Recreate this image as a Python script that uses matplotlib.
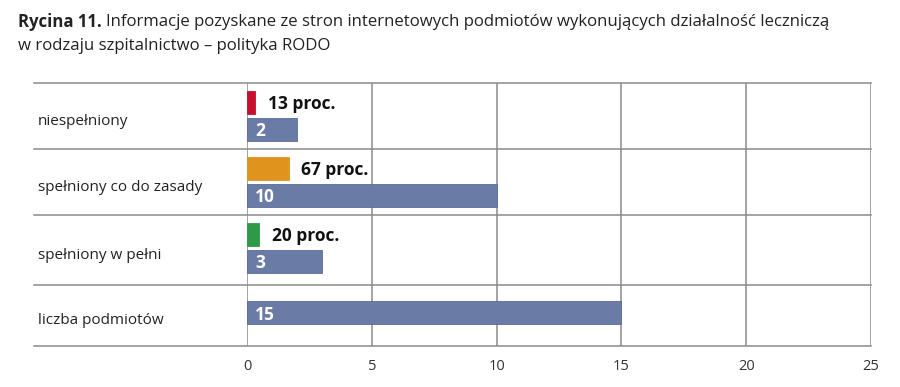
import matplotlib
matplotlib.use("Agg")
import matplotlib.pyplot as plt
from matplotlib.transforms import blended_transform_factory

# ---- data ----
categories = ["niespełniony", "spełniony co do zasady", "spełniony w pełni", "liczba podmiotów"]
counts = [2, 10, 3, 15]
percents = [13, 67, 20]
pct_labels = ["13 proc.", "67 proc.", "20 proc."]
pct_colors = ["#C8102E", "#E0941E", "#2E9A48"]
count_color = "#6A7BA6"
xticks = [0, 5, 10, 15, 20, 25]
PCT_SCALE = 0.025  # percentage bars drawn at 1/40 of axis units

# ---- layout ----
W, H = 900, 387
fig = plt.figure(figsize=(W / 100, H / 100), dpi=100)
x0, x1 = 247, 871
y_top, y_bot = 83, 346
ax = fig.add_axes([x0 / W, 1 - y_bot / H, (x1 - x0) / W, (y_bot - y_top) / H])

# row boundaries in data units (y grows downward)
row_bounds = [0, 1, 2, 3.06, 3.985]
ax.set_ylim(row_bounds[-1], 0)
ax.set_xlim(0, 25)

grid_c = "#8a8a8a"
for s in ax.spines.values():
    s.set_visible(False)

for xt in xticks:
    ax.axvline(xt, color=grid_c, lw=1.1, zorder=1)

trans = blended_transform_factory(ax.transAxes, ax.transData)
left_ext = (34 - x0) / (x1 - x0)
for yb in row_bounds:
    ax.plot([left_ext, 1], [yb, yb], transform=trans, color=grid_c, lw=1.1,
            clip_on=False, zorder=1)

bh = 0.35
pct_centers = [0.30, 1.30, 2.30]
cnt_centers = [0.70, 1.70, 2.70, 3.48]

ax.barh(pct_centers, [p * PCT_SCALE for p in percents], height=bh,
        color=pct_colors, edgecolor=pct_colors, lw=0.6, zorder=3)
ax.barh(cnt_centers, counts, height=bh, color=count_color,
        edgecolor="#5a6b96", lw=0.6, zorder=3)

lab_font = ["Open Sans", "DejaVu Sans"]
for yc, p, lab in zip(pct_centers, percents, pct_labels):
    ax.annotate(lab, (p * PCT_SCALE, yc), xytext=(9, -0.8), textcoords="offset points",
                ha="left", va="center", fontsize=12.5, fontweight="bold",
                color="#111111", family=lab_font, zorder=4)
for yc, c in zip(cnt_centers, counts):
    ax.annotate(str(c), (0, yc), xytext=(6, -1.5), textcoords="offset points",
                ha="left", va="center", fontsize=12.5, fontweight="bold",
                color="white", family=lab_font, zorder=4)

# category labels
for i, cat in enumerate(categories):
    yc = (row_bounds[i] + row_bounds[i + 1]) / 2 + 0.08
    ax.text((38 - x0) / (x1 - x0), yc, cat, transform=trans, ha="left", va="center",
            fontsize=11, color="#222222", family=lab_font)

ax.set_yticks([])
ax.set_xticks(xticks)
ax.set_xticklabels([str(t) for t in xticks], fontsize=10.5, color="#333333", family=lab_font)
ax.tick_params(axis="x", length=0, pad=9)

# title
fig.text(18 / W, 1 - 22 / H, "Rycina 11.", ha="left", va="center", fontsize=12.1,
         fontweight="bold", color="#222222", family=lab_font)
fig.text(106 / W, 1 - 22 / H,
         "Informacje pozyskane ze stron internetowych podmiotów wykonujących działalność leczniczą",
         ha="left", va="center", fontsize=12.1, color="#222222", family=lab_font)
fig.text(18 / W, 1 - 46 / H, "w rodzaju szpitalnictwo – polityka RODO", ha="left",
         va="center", fontsize=12.1, color="#222222", family=lab_font)

fig.savefig("out.png", dpi=100)
